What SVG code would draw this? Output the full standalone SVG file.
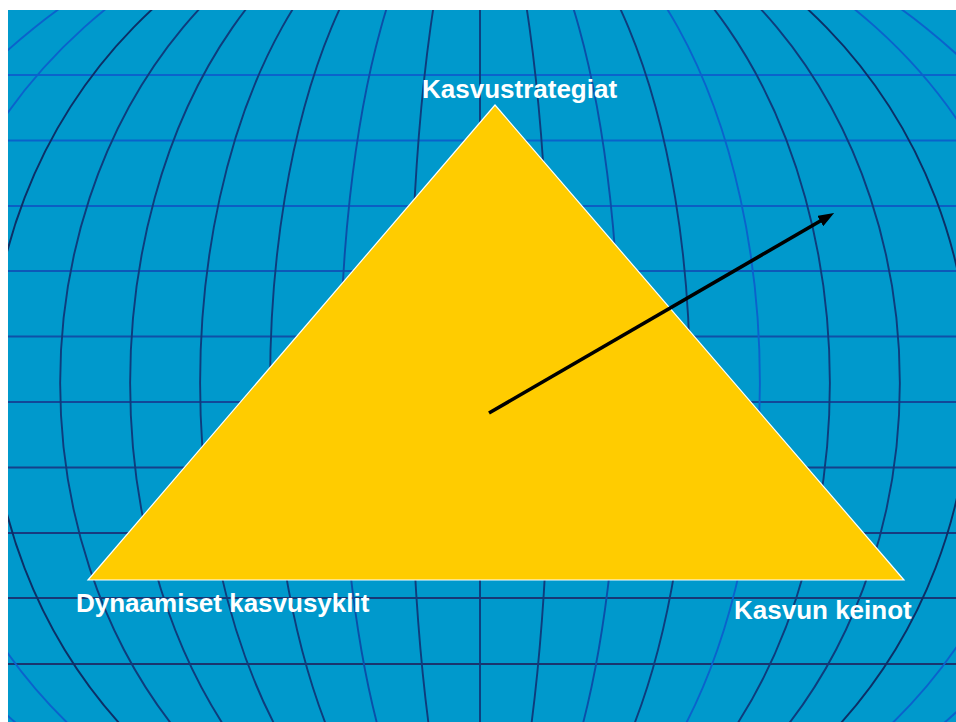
<svg xmlns="http://www.w3.org/2000/svg" width="956" height="722" viewBox="0 0 956 722">
  <defs>
    <clipPath id="bgclip"><rect x="8" y="10" width="948" height="712"/></clipPath>
    <marker id="arrow" viewBox="0 0 16 12" refX="2" refY="6" markerWidth="16" markerHeight="12" markerUnits="userSpaceOnUse" orient="auto">
      <path d="M0,0 L16,6 L0,12 Z" fill="#000"/>
    </marker>
  </defs>
  <style>
    .lbl { font-family: "Liberation Sans", Arial, sans-serif; font-weight: bold; font-size: 26px; fill: #ffffff; }
    .mer { fill: none; stroke-width: 1.9; }
    .dk { stroke: #0e3c7c; }
    .bl { stroke: #0b62cc; }
    .par { fill: none; stroke-width: 1.9; }
  </style>
  <rect x="0" y="0" width="956" height="722" fill="#ffffff"/>
  <g id="background">
    <rect x="8" y="10" width="948" height="712" fill="#0099cc"/>
    <g clip-path="url(#bgclip)">
      <g id="parallels" class="par">
        <line x1="8" y1="75" x2="956" y2="75" stroke="#0a63cc"/>
        <line x1="8" y1="140.5" x2="956" y2="140.5" stroke="#0a62ca"/>
        <line x1="8" y1="206" x2="956" y2="206" stroke="#0b5ec4"/>
        <line x1="8" y1="271" x2="956" y2="271" stroke="#0d58b8"/>
        <line x1="8" y1="336.5" x2="956" y2="336.5" stroke="#0f50a8"/>
        <line x1="8" y1="402" x2="956" y2="402" stroke="#124898"/>
        <line x1="8" y1="467.5" x2="956" y2="467.5" stroke="#15418a"/>
        <line x1="8" y1="533" x2="956" y2="533" stroke="#173b80"/>
        <line x1="8" y1="598" x2="956" y2="598" stroke="#183876"/>
        <line x1="8" y1="664" x2="956" y2="664" stroke="#1a356e"/>
      </g>
      <g id="meridians" class="mer">
        <path class="bl" d="M480,-120 A630 503 0 0 0 480,886"/>
        <path class="bl" d="M480,-120 A560 503 0 0 0 480,886"/>
        <path class="bl" d="M480,-120 A490 503 0 0 0 480,886" style="stroke:#0c2f66"/>
        <path class="dk" d="M480,-120 A420 503 0 0 0 480,886"/>
        <path class="dk" d="M480,-120 A350 503 0 0 0 480,886"/>
        <path class="dk" d="M480,-120 A280 503 0 0 0 480,886"/>
        <path class="dk" d="M480,-120 A210 503 0 0 0 480,886"/>
        <path class="bl" d="M480,-120 A140 503 0 0 0 480,886" style="stroke:#0b4fa8"/>
        <path class="dk" d="M480,-120 A70 503 0 0 0 480,886"/>
        <line class="dk" x1="480" y1="10" x2="480" y2="722"/>
        <path class="dk" d="M480,-120 A70 503 0 0 1 480,886"/>
        <path class="bl" d="M480,-120 A140 503 0 0 1 480,886" style="stroke:#0b4fa8"/>
        <path class="dk" d="M480,-120 A210 503 0 0 1 480,886"/>
        <path class="bl" d="M480,-120 A280 503 0 0 1 480,886"/>
        <path class="dk" d="M480,-120 A350 503 0 0 1 480,886"/>
        <path class="dk" d="M480,-120 A420 503 0 0 1 480,886"/>
        <path class="bl" d="M480,-120 A490 503 0 0 1 480,886" style="stroke:#0c2f66"/>
        <path class="bl" d="M480,-120 A560 503 0 0 1 480,886"/>
        <path class="bl" d="M480,-120 A630 503 0 0 1 480,886"/>
      </g>
    </g>
  </g>
  <g id="triangle">
    <polygon points="495,105 904,580 88,580" fill="#ffcc00" stroke="#ffffff" stroke-width="1.2" stroke-linejoin="miter"/>
  </g>
  <g id="connectors">
    <line x1="489" y1="413" x2="822" y2="220" stroke="#000000" stroke-width="3.6" marker-end="url(#arrow)"/>
  </g>
  <g id="label-top">
    <text class="lbl" x="422" y="98">Kasvustrategiat</text>
  </g>
  <g id="label-left">
    <text class="lbl" x="76" y="612">Dynaamiset kasvusyklit</text>
  </g>
  <g id="label-right">
    <text class="lbl" x="734" y="619">Kasvun keinot</text>
  </g>
</svg>
